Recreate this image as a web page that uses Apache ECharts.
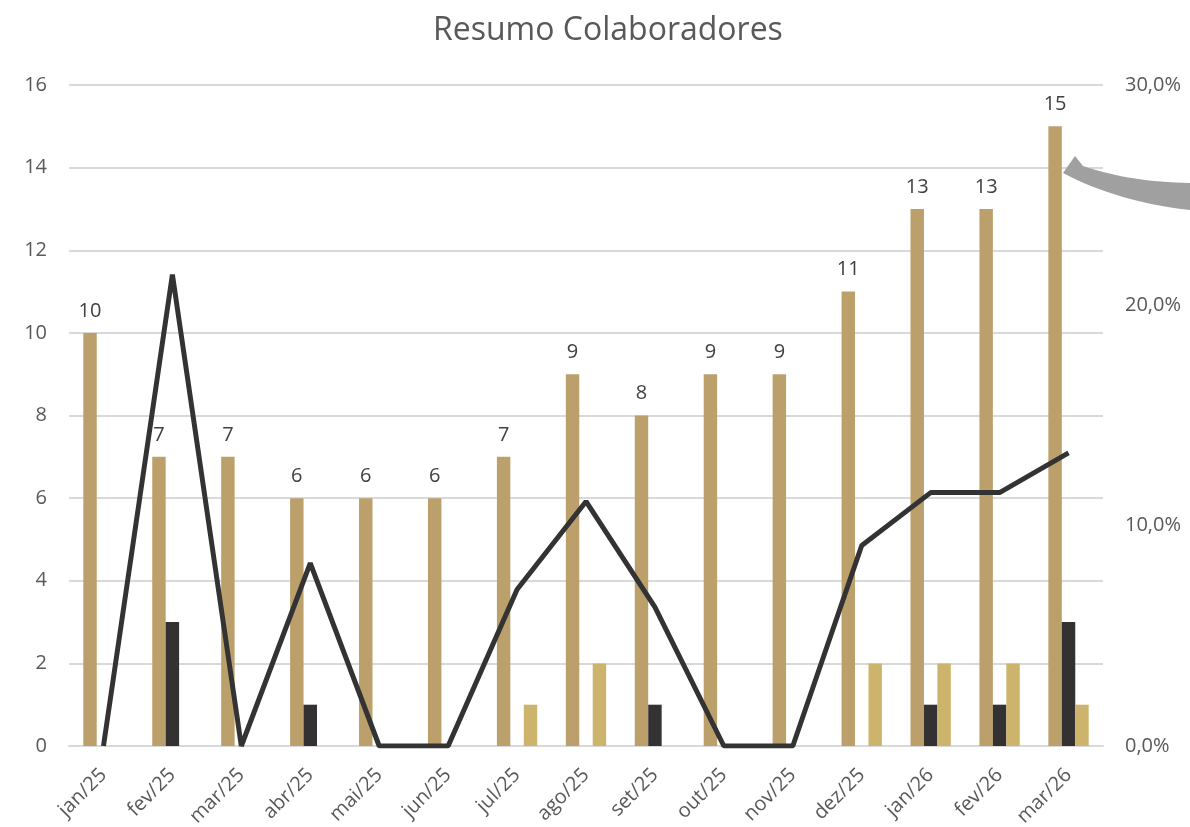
<!DOCTYPE html>
<html>
<head>
<meta charset="utf-8">
<script src="https://cdn.jsdelivr.net/npm/echarts@6/dist/echarts.min.js"></script>
<style>
  html, body { margin: 0; padding: 0; background: #fff; }
  #chart { width: 1190px; height: 827px; }
</style>
</head>
<body>
<div id="chart"></div>
<script>
// dados do gráfico
var meses = ['jan/25', 'fev/25', 'mar/25', 'abr/25', 'mai/25', 'jun/25', 'jul/25', 'ago/25',
  'set/25', 'out/25', 'nov/25', 'dez/25', 'jan/26', 'fev/26', 'mar/26']
var colaboradores = [10, 7, 7, 6, 6, 6, 7, 9, 8, 9, 9, 11, 13, 13, 15]
var desligados = [0, 3, 0, 1, 0, 0, 0, 0, 1, 0, 0, 0, 1, 1, 3]
var admitidos = [0, 0, 0, 0, 0, 0, 1, 2, 0, 0, 0, 2, 2, 2, 1]
var turnover = [0, 21.4, 0, 8.3, 0, 0, 7.1, 11.1, 6.3, 0, 0, 9.1, 11.5, 11.5, 13.3]

var chart = echarts.init(document.getElementById('chart'))
var txt = '#595959'
var fonte = 'Open Sans, sans-serif'

// curva quadrática para a seta decorativa
function quad (p0, c, p1, n) {
  var pts = []
  for (var i = 0; i <= n; i++) {
    var t = i / n
    var a = (1 - t) * (1 - t), b = 2 * (1 - t) * t, d = t * t
    pts.push([a * p0[0] + b * c[0] + d * p1[0], a * p0[1] + b * c[1] + d * p1[1]])
  }
  return pts
}
var seta = [[1063, 173], [1075, 156]]
  .concat(quad([1083, 166], [1130, 182], [1190, 183], 16))
  .concat(quad([1190, 210], [1118, 202], [1063, 173], 16))

chart.setOption({
  animation: false,
  textStyle: { fontFamily: fonte },
  title: {
    text: 'Resumo Colaboradores',
    left: 428,
    top: 10,
    textStyle: { color: txt, fontSize: 32, fontWeight: 'normal', fontFamily: fonte }
  },
  grid: { left: 69, right: 87, top: 85, bottom: 81, outerBoundsMode: 'none', containLabel: false },
  xAxis: {
    type: 'category',
    data: meses,
    axisTick: { show: false },
    axisLine: { lineStyle: { color: '#d9d9d9', width: 2 } },
    axisLabel: { rotate: 45, color: txt, fontSize: 20, margin: 26, interval: 0 }
  },
  yAxis: [
    {
      type: 'value',
      min: 0,
      max: 16,
      interval: 2,
      axisLabel: { color: txt, fontSize: 20, margin: 22 },
      splitLine: { lineStyle: { color: '#d9d9d9', width: 2 } }
    },
    {
      type: 'value',
      min: 0,
      max: 30,
      interval: 10,
      splitLine: { show: false },
      axisLabel: {
        color: txt,
        fontSize: 20,
        margin: 22,
        formatter: function (v) { return v.toFixed(1).replace('.', ',') + '%' }
      }
    }
  ],
  series: [
    {
      name: 'Colaboradores',
      type: 'bar',
      data: colaboradores,
      barWidth: '19.5%',
      barGap: '0%',
      itemStyle: { color: '#BBA06C' },
      label: { show: true, position: 'top', distance: 12, color: '#404040', fontSize: 20 }
    },
    {
      name: 'Desligados',
      type: 'bar',
      data: desligados,
      barWidth: '19.5%',
      barGap: '0%',
      itemStyle: { color: '#333132' }
    },
    {
      name: 'Admitidos',
      type: 'bar',
      data: admitidos,
      barWidth: '19.5%',
      barGap: '0%',
      itemStyle: { color: '#CDB46C' }
    },
    {
      name: 'Turnover',
      type: 'line',
      yAxisIndex: 1,
      data: turnover,
      symbol: 'none',
      lineStyle: { color: '#333333', width: 5 },
      z: 5
    }
  ],
  // seta cinza no canto superior direito
  graphic: [
    {
      type: 'polygon',
      shape: { points: seta },
      style: { fill: '#a0a0a0' },
      z: 10
    }
  ]
})
</script>
</body>
</html>
